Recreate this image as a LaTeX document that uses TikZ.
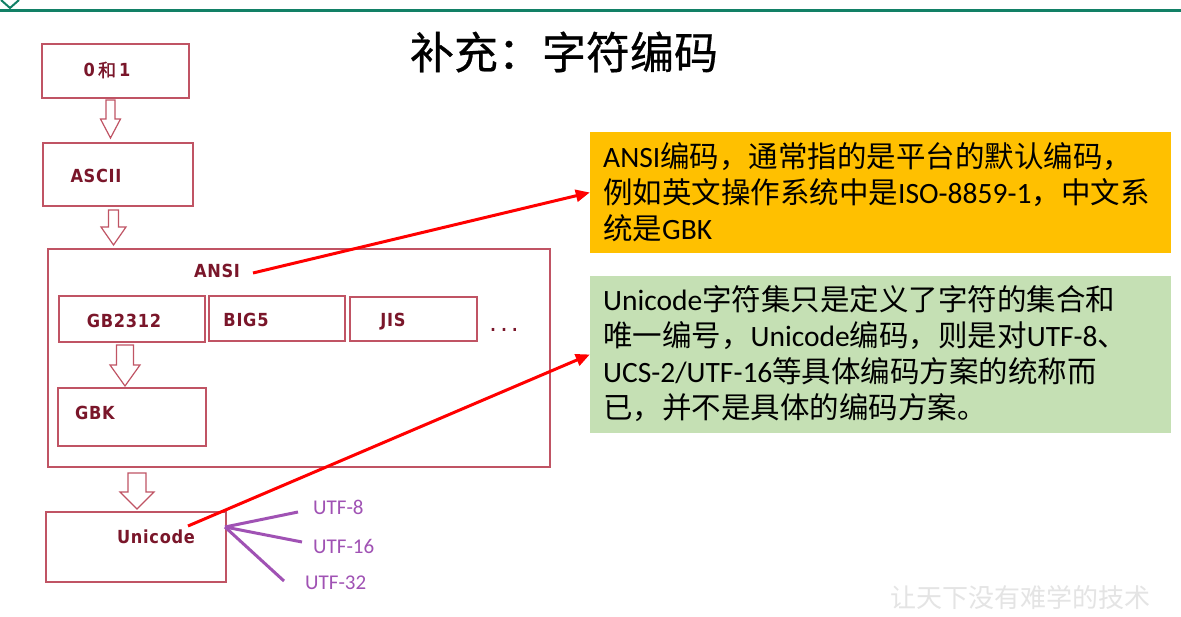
\documentclass[tikz,border=0pt]{standalone}
\usepackage{fontspec}
\usetikzlibrary{arrows.meta}
\newfontfamily\cjk{Noto Sans CJK SC}
\newfontfamily\cjkbold[FakeBold=1.2]{Noto Sans CJK SC}
\newfontfamily\titlefont[FakeBold=0.6]{Noto Sans CJK SC}
\newfontfamily\lat{Carlito}
\newfontfamily\lblfont[LetterSpace=4]{DejaVu Sans Condensed Bold}
\definecolor{headteal}{RGB}{18,128,102}
\definecolor{boxred}{RGB}{192,84,100}
\definecolor{lblred}{RGB}{122,22,42}
\definecolor{noteorange}{RGB}{255,192,0}
\definecolor{notegreen}{RGB}{197,224,180}
\definecolor{utfpurple}{RGB}{160,82,180}
\definecolor{markgray}{RGB}{228,228,228}
% hollow block arrow: centre x, top y, length, shaft width, head width, head length
\newcommand\blockarrow[6]{%
  \draw[hollow] ({#1-#4/2},{#2}) -- ({#1+#4/2},{#2}) -- ({#1+#4/2},{#2+#3-#6})
    -- ({#1+#5/2},{#2+#3-#6}) -- ({#1},{#2+#3}) -- ({#1-#5/2},{#2+#3-#6})
    -- ({#1-#4/2},{#2+#3-#6}) -- cycle;}
\begin{document}
\begin{tikzpicture}[x=1pt,y=-1pt,
  box/.style={draw=boxred,line width=1.3pt,inner sep=0pt},
  hollow/.style={draw=boxred,line width=1.2pt,fill=white},
  lbl/.style={inner sep=0pt,text=lblred,text height=13.5pt,text depth=0pt,
    font=\lblfont\fontsize{18}{20}\selectfont},
  utf/.style={inner sep=0pt,anchor=west,text=utfpurple,text height=13.5pt,text depth=0pt,
    font=\lat\fontsize{21}{24}\selectfont},
  note/.style={anchor=base west,inner sep=0pt,text width=570pt,align=left,
    font=\cjk\fontsize{29.5}{36}\selectfont},
  redline/.style={draw=red,line width=3pt,-{Triangle[length=14pt,width=12pt]}},
  utfline/.style={draw=utfpurple,line width=3pt}]
\useasboundingbox (0,0) rectangle (1181,617);
\fill[white] (0,0) rectangle (1181,617);

% header rule
\draw[headteal,line width=3pt] (0,10.5) -- (1181,10.5);
\draw[headteal,line width=2pt] (1,0) -- (10,8) -- (19,0);

% title
\node[font=\titlefont\fontsize{44}{48}\selectfont] (title) at (564,52) {补充：字符编码};

% encoding boxes
\node[box,minimum width=147pt,minimum height=54pt] (b01) at (115.5,71) {};
\node[box,minimum width=150pt,minimum height=63pt] (bascii) at (118,174.5) {};
\node[box,minimum width=502pt,minimum height=218pt] (bansi) at (299,358) {};
\node[box,minimum width=146pt,minimum height=46pt] (bgb) at (132,319) {};
\node[box,minimum width=136pt,minimum height=45pt] (bbig) at (277,318.5) {};
\node[box,minimum width=127pt,minimum height=44pt] (bjis) at (413.5,319) {};
\node[box,minimum width=148pt,minimum height=58pt] (bgbk) at (132,417) {};
\node[box,minimum width=180pt,minimum height=70pt] (buni) at (136,547) {};

% box labels
\node[lbl] (t01) at (107,70) {0\,{\cjkbold 和}\,1};
\node[lbl] (tascii) at (96,176) {ASCII};
\node[lbl] (tansi) at (217,271) {ANSI};
\node[lbl] (tgb) at (124,321) {GB2312};
\node[lbl] (tbig) at (246,320) {BIG5};
\node[lbl] (tjis) at (393,320) {JIS};
\node[lbl] (tgbk) at (95,413) {GBK};
\node[lbl] (tuni) at (156,537) {Unicode};
\node[lbl,anchor=base,text height=,font=\lblfont\fontsize{16}{20}\selectfont] (tdots) at (504,332) {.\,\,.\,\,.};

% hollow arrows between levels
\blockarrow{110.5}{100}{38}{9}{20}{19}
\blockarrow{113.5}{210}{35}{10}{25}{18}
\blockarrow{125}{345}{41}{17}{30}{21}
\blockarrow{137}{473}{36}{18}{34}{17}

% notes
\node[fill=noteorange,minimum width=581pt,minimum height=121pt,inner sep=0pt] (orange) at (880.5,192.5) {};
\node[fill=notegreen,minimum width=581pt,minimum height=157pt,inner sep=0pt] (green) at (880.5,354.5) {};
\node[note] (torange) at (603,168) {{\lat ANSI}编码，通常指的是平台的默认编码，\\
例如英文操作系统中是{\lat ISO-8859-1}，中文系\\
统是{\lat GBK}};
\node[note] (tgreen) at (603,311) {{\lat Unicode}字符集只是定义了字符的集合和\\
唯一编号，{\lat Unicode}编码，则是对{\lat UTF-8}、\\
{\lat UCS-2/UTF-16}等具体编码方案的统称而\\
已，并不是具体的编码方案。};

% UTF forms of Unicode
\coordinate (ustart) at (225,527);
\coordinate (u8end) at (298,512);
\coordinate (u16end) at (302,542);
\coordinate (u32end) at (284,581);
\draw[utfline] (ustart) -- (u8end);
\draw[utfline] (ustart) -- (u16end);
\draw[utfline] (ustart) -- (u32end);
\node[utf] (tu8) at (313,508) {UTF-8};
\node[utf] (tu16) at (313,547) {UTF-16};
\node[utf] (tu32) at (305,583) {UTF-32};

% pointers to the notes
\coordinate (ansitail) at (253,273);
\coordinate (unitail) at (188,526);
\draw[redline] (ansitail) -- (orange.west);
\draw[redline] (unitail) -- (green.west);

% footer motto
\node[text=markgray,font=\cjk\fontsize{26}{28}\selectfont] (motto) at (1020,598) {让天下没有难学的技术};
\end{tikzpicture}
\end{document}
